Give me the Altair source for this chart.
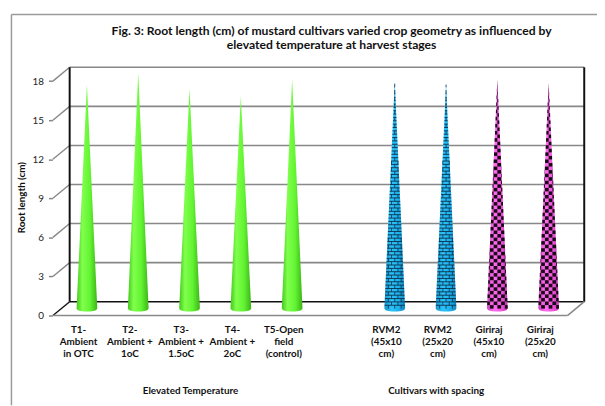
import math
import altair as alt
import pandas as pd

# ---------------- data ----------------
cat_labels = [
    "T1-\nAmbient\nin OTC",
    "T2-\nAmbient +\n1oC",
    "T3-\nAmbient +\n1.5oC",
    "T4-\nAmbient +\n2oC",
    "T5-Open\nfield\n(control)",
    "RVM2\n(45x10\ncm)",
    "RVM2\n(25x20\ncm)",
    "Giriraj\n(45x10\ncm)",
    "Giriraj\n(25x20\ncm)",
]
groups = ["temp", "temp", "temp", "temp", "temp", "cult", "cult", "cult", "cult"]
root_length = [17.2, 18.1, 16.9, 16.3, 17.6, 17.4, 17.2, 17.55, 17.3]
styles = ["green", "green", "green", "green", "green", "brick", "brick", "check", "check"]
y_ticks = [0, 3, 6, 9, 12, 15, 18]
title_text = ("Fig. 3: Root length (cm) of mustard cultivars varied crop geometry  as influenced by\n"
              "elevated temperature at harvest stages")
group_titles = ["Elevated Temperature", "Cultivars with spacing"]
y_title = "Root length (cm)"

# ---------------- geometry / style constants ----------------
FONT = "Lato"
PX_X = 52.0      # px per category slot
PX_Y = 13.2      # px per cm
DX = 8.5 / PX_X  # half depth shift (slots)
DY = 7.0 / PX_Y  # half depth shift (cm)
H = 10.5 / PX_X  # cone half width
E = 3.0 / PX_Y   # base ellipse half height
X_MIN, X_MAX = -0.5, 9.53

xs = alt.Scale(domain=[-35 / PX_X, 517 / PX_X], nice=False, zero=False)
ys = alt.Scale(domain=[(309 - 398) / PX_Y, 309 / PX_Y], nice=False, zero=False)
Y_AXIS = alt.Axis(
    values=y_ticks, domain=False, grid=False, ticks=True, tickSize=4,
    tickColor="#868686", tickWidth=1.5, labelPadding=5, labelFont=FONT,
    labelFontSize=10, labelColor="#222222", title=y_title, titleFont=FONT,
    titleFontSize=10, titleFontWeight="bold", titleColor="#111111",
    titleX=-31, titleY=189, titleAngle=270, titleBaseline="middle")


def X(f):
    return alt.X(f, scale=xs, axis=None)


def Y(f):
    return alt.Y(f, scale=ys, axis=Y_AXIS)


slots = []
offset = 0
for i, g in enumerate(groups):
    if i > 0 and g != groups[i - 1]:
        offset += 1
    slots.append(i + offset)

# ---------------- walls ----------------
grid = pd.DataFrame({
    "v": y_ticks,
    "yb": [v + 2 * DY for v in y_ticks],
    "x0": X_MIN + DX, "x1": X_MAX + DX,
    "xf": X_MIN - DX,
    "col": ["black" if v == 0 else "grey" for v in y_ticks],
})
axis_layer = alt.Chart(grid).mark_point(opacity=0).encode(x=X("xf:Q"), y=Y("v:Q"))
back_lines = alt.Chart(grid).mark_rule(strokeWidth=1.6).encode(
    x=X("x0:Q"), x2="x1:Q", y=Y("yb:Q"),
    color=alt.Color("col:N", scale=alt.Scale(domain=["black", "grey"], range=["#111111", "#888888"]), legend=None),
)
left_wall = alt.Chart(grid).mark_rule(strokeWidth=1.4).encode(
    x=X("xf:Q"), x2="x0:Q", y=Y("v:Q"), y2="yb:Q",
    color=alt.Color("col:N", scale=alt.Scale(domain=["black", "grey"], range=["#444444", "#888888"]), legend=None),
)
walls = pd.DataFrame({
    "x": [X_MIN + DX, X_MAX + DX],
    "y0": [2 * DY, 2 * DY],
    "y1": [18 + 2 * DY, 18 + 2 * DY],
})
wall_edges = alt.Chart(walls).mark_rule(strokeWidth=2, color="#111111").encode(
    x=X("x:Q"), y=Y("y0:Q"), y2="y1:Q")

floor = pd.DataFrame({
    "xa": [X_MIN - DX, X_MAX - DX],
    "xb": [X_MAX - DX, X_MAX + DX],
    "ya": [0.0, 0.0],
    "yb": [0.0, 2 * DY],
})
floor_edges = alt.Chart(floor).mark_rule(strokeWidth=1.6, color="#8a8a8a").encode(
    x=X("xa:Q"), x2="xb:Q", y=Y("ya:Q"), y2="yb:Q")

# ---------------- cones ----------------
C0 = DY
T = [k / 10.0 - 1 for k in range(21)]
cone_rows = []
for i, (s, v, st) in enumerate(zip(slots, root_length, styles)):
    for t in T:
        cone_rows.append({
            "cat": i, "style": st, "cx": s + t * H,
            "top": C0 + v * (1 - abs(t)),
            "bot": C0 - E * math.sqrt(max(0.0, 1 - t * t)),
        })
cones = pd.DataFrame(cone_rows)


def grad(stops):
    return alt.Gradient(gradient="linear", x1=0, x2=1, y1=0, y2=0,
                        stops=[alt.GradientStop(color=c, offset=o) for o, c in stops])


cone_style = {
    "green": [(0, "#44c81e"), (0.28, "#80ff4c"), (0.65, "#62f432"), (1, "#3cb416")],
    "brick": [(0, "#1795cc"), (0.35, "#2cc4fa"), (0.7, "#1cb0ec"), (1, "#1386bb")],
    "check": [(0, "#d044c0"), (0.35, "#ff6cf0"), (0.7, "#f254de"), (1, "#bc36ac")],
}
cone_layers = []
for st, stops in cone_style.items():
    cone_layers.append(
        alt.Chart(cones[cones["style"] == st]).mark_area(color=grad(stops)).encode(
            x=X("cx:Q"), y=Y("top:Q"), y2="bot:Q", detail="cat:N"))

# brick texture (blue)
RH_B = 3.4 / PX_Y
BL = 6.5 / PX_X
hl, vj = [], []
for i, (s, v, st) in enumerate(zip(slots, root_length, styles)):
    if st != "brick":
        continue
    n = int(v / RH_B)
    for k in range(n + 1):
        y0 = C0 + k * RH_B
        y1 = min(C0 + (k + 1) * RH_B, C0 + v)
        w0 = H * (1 - (y0 - C0) / v)
        if k > 0:
            hl.append({"x0": s - w0, "x1": s + w0, "y": y0})
        wm = H * (1 - ((y0 + y1) / 2 - C0) / v)
        off = (k % 2) * BL / 2
        for m in range(-10, 11):
            xj = s + off + m * BL
            if abs(xj - s) < wm * 0.92:
                vj.append({"x": xj, "y0": y0, "y1": y1})
brick_h = alt.Chart(pd.DataFrame(hl)).mark_rule(color="#0b2f4a", strokeWidth=0.9).encode(
    x=X("x0:Q"), x2="x1:Q", y=Y("y:Q"))
brick_v = alt.Chart(pd.DataFrame(vj)).mark_rule(color="#0b2f4a", strokeWidth=0.8).encode(
    x=X("x:Q"), y=Y("y0:Q"), y2="y1:Q")

# checker texture (pink)
RH_C = 3.6 / PX_Y
Q = 3.8 / PX_X
cells = []
for i, (s, v, st) in enumerate(zip(slots, root_length, styles)):
    if st != "check":
        continue
    n = int(math.ceil(v / RH_C))
    for k in range(n):
        y0 = C0 + k * RH_C
        y1 = min(C0 + (k + 1) * RH_C, C0 + v)
        wm = H * (1 - ((y0 + y1) / 2 - C0) / v)
        if wm <= 0:
            continue
        j0 = int(math.floor(-wm / Q))
        j1 = int(math.ceil(wm / Q))
        for j in range(j0, j1):
            if (j + k) % 2:
                continue
            xa = max(s + j * Q, s - wm)
            xb = min(s + (j + 1) * Q, s + wm)
            if xb > xa:
                cells.append({"x0": xa, "x1": xb, "y0": y0, "y1": y1})
checker = alt.Chart(pd.DataFrame(cells)).mark_rect(color="#1a0a18", strokeWidth=0).encode(
    x=X("x0:Q"), x2="x1:Q", y=Y("y0:Q"), y2="y1:Q")

# ---------------- texts ----------------
lab_df = pd.DataFrame({"lab": cat_labels, "xf": [s - DX for s in slots]})
x_labels = alt.Chart(lab_df).mark_text(
    font=FONT, fontSize=10, fontWeight="bold", color="#111111", lineBreak="\n",
    lineHeight=12.2, baseline="middle", align="center").encode(
    x=X("xf:Q"), y=alt.value(324), text="lab:N")

one = pd.DataFrame({"t": [title_text]})
title = alt.Chart(one).mark_text(
    font=FONT, fontSize=12.3, fontWeight="bold", color="#111111", lineBreak="\n",
    lineHeight=14, baseline="middle", align="center").encode(
    x=alt.value(283), y=alt.value(21), text="t:N")

group_layers = []
for t, px in zip(group_titles, [140, 389]):
    group_layers.append(alt.Chart(pd.DataFrame({"t": [t]})).mark_text(
        font=FONT, fontSize=10, fontWeight="bold", color="#111111", baseline="middle",
        align="center").encode(x=alt.value(px), y=alt.value(386), text="t:N"))

dummy = pd.DataFrame({"a": [0]})
border_left = alt.Chart(dummy).mark_rule(color="#9a9a9a", strokeWidth=1.5).encode(
    x=alt.value(-41.5), y=alt.value(4), y2=alt.value(400))
border_top = alt.Chart(dummy).mark_rule(color="#9a9a9a", strokeWidth=1.5).encode(
    x=alt.value(-41.5), x2=alt.value(560), y=alt.value(4))

chart = alt.layer(
    border_left, border_top, axis_layer, back_lines, left_wall, wall_edges, floor_edges,
    *cone_layers, brick_h, brick_v, checker, x_labels, title,
    *group_layers,
).properties(
    width=552, height=398, autosize=alt.AutoSizeParams(type="none"),
    padding={"left": 45, "top": 0, "right": 0, "bottom": 0},
).configure_view(stroke=None)

chart.save("out.html", embed_options={"renderer": "svg", "actions": False})
